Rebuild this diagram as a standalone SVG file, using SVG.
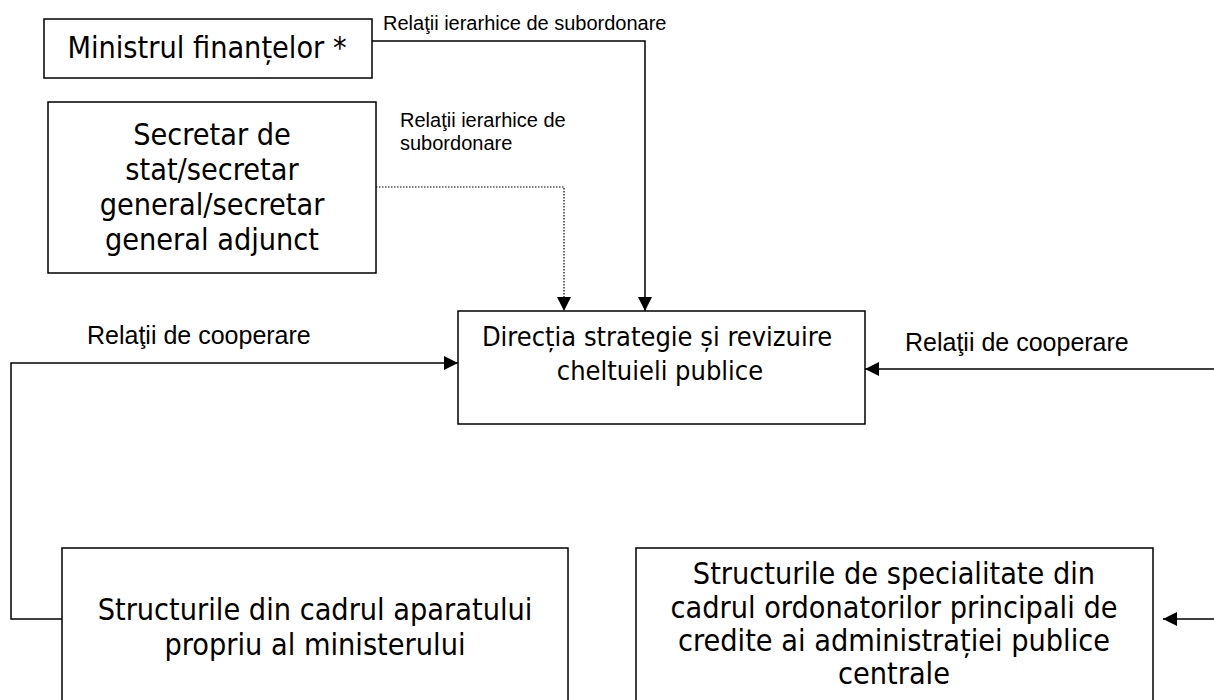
<svg xmlns="http://www.w3.org/2000/svg" width="1214" height="700" viewBox="0 0 1214 700">
<style>
.box{fill:#fff;stroke:#000;stroke-width:1.5}
.bt{font-family:"DejaVu Sans Condensed","DejaVu Sans",sans-serif;font-stretch:condensed;font-size:30.3px;fill:#000;text-anchor:middle}
.bs{font-size:27px}
.lb{font-family:"Liberation Sans",Arial,sans-serif;font-size:25px;fill:#000}
.ls{font-size:20px}
.ln{fill:none;stroke:#000;stroke-width:1.5}
.dot{fill:none;stroke:#000;stroke-width:1.2;stroke-dasharray:1.5 1.5}
</style>
<defs>
<marker id="ah" viewBox="0 0 14 14" refX="14" refY="7" markerWidth="14" markerHeight="14" orient="auto" markerUnits="userSpaceOnUse">
<path d="M0,0 L14,7 L0,14 z" fill="#000"/>
</marker>
</defs>
<g id="connectors">
<path class="ln" d="M372,41 H645 V311" marker-end="url(#ah)"/>
<path class="dot" d="M376,187 H564 V311" marker-end="url(#ah)"/>
<path class="ln" d="M62,619 H11 V363 H458" marker-end="url(#ah)"/>
<path class="ln" d="M1214,369 H865" marker-end="url(#ah)"/>
<path class="ln" d="M1214,619 H1163" marker-end="url(#ah)"/>
<text class="lb ls" x="383" y="30">Relaţii ierarhice de subordonare</text>
<text class="lb ls" x="400" y="127">Relaţii ierarhice de</text>
<text class="lb ls" x="400" y="150">subordonare</text>
<text class="lb" x="87" y="344">Relaţii de cooperare</text>
<text class="lb" x="905" y="351">Relaţii de cooperare</text>
</g>
<g id="ministru">
<rect class="box" x="44" y="19" width="328" height="59"/>
<text class="bt" x="207" y="58">Ministrul finanțelor *</text>
</g>
<g id="secretar">
<rect class="box" x="48" y="102" width="328" height="171"/>
<text class="bt" x="212" y="145">Secretar de</text>
<text class="bt" x="212" y="180">stat/secretar</text>
<text class="bt" x="212" y="215">general/secretar</text>
<text class="bt" x="212" y="250">general adjunct</text>
</g>
<g id="directia">
<rect class="box" x="458" y="311" width="407" height="113"/>
<text class="bt bs" x="657" y="346">Direcția strategie și revizuire</text>
<text class="bt bs" x="660" y="380">cheltuieli publice</text>
</g>
<g id="aparat">
<rect class="box" x="62" y="548" width="506" height="160"/>
<text class="bt" x="315" y="620">Structurile din cadrul aparatului</text>
<text class="bt" x="315" y="655">propriu al ministerului</text>
</g>
<g id="ordonatori">
<rect class="box" x="636" y="548" width="517" height="160"/>
<text class="bt" x="894" y="584">Structurile de specialitate din</text>
<text class="bt" x="894" y="618">cadrul ordonatorilor principali de</text>
<text class="bt" x="894" y="651">credite ai administrației publice</text>
<text class="bt" x="894" y="684">centrale</text>
</g>
</svg>
